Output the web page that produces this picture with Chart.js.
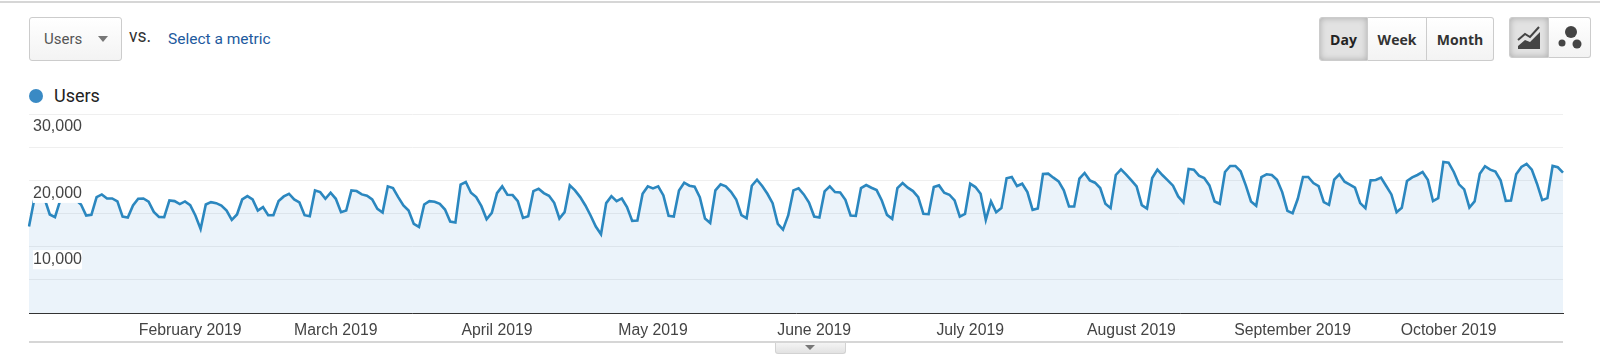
<!DOCTYPE html>
<html>
<head>
<meta charset="utf-8">
<title>Users</title>
<script src="https://cdn.jsdelivr.net/npm/chart.js@4"></script>
<style>
    html, body { margin: 0; padding: 0; background: #fff; }
    body { position: relative; width: 1600px; height: 357px; overflow: hidden; font-family: Roboto, sans-serif; }
    #myChart { position: absolute; left: 0; top: 0; }
    .abs { position: absolute; box-sizing: border-box; }
    .btn { display: flex; align-items: center; justify-content: center; top: 17px; height: 44px;
        background: linear-gradient(#fff, #f3f3f3); border: 1px solid #ccc; font: bold 14px "Open Sans", sans-serif; color: #333; }
    .on { background: #e2e2e2; box-shadow: inset 0 0 6px #aaa; color: #222; }
</style>
</head>
<body>
<div class="abs" style="left:0;top:1px;width:1600px;height:2px;background:#d6d6d6"></div>

<div class="abs btn" style="left:29px;width:93px;border-radius:3px;justify-content:flex-start;padding-left:14px;font:15px Roboto,sans-serif;color:#555">Users</div>
<div class="abs" style="left:98px;top:36px;border-left:5px solid transparent;border-right:5px solid transparent;border-top:6px solid #777"></div>
<div class="abs" style="left:129px;top:26px;font-size:17.5px;color:#333">vs.</div>
<div class="abs" style="left:168px;top:30px;font-size:15.5px;color:#1d5a9e">Select a metric</div>

<div class="abs btn on" style="left:1319px;width:49px;border-radius:3px 0 0 3px">Day</div>
<div class="abs btn" style="left:1368px;width:59px;border-left:0">Week</div>
<div class="abs btn" style="left:1427px;width:67px;border-left:0;border-radius:0 3px 3px 0">Month</div>

<div class="abs btn on" style="left:1509px;width:40px;height:41px;border-radius:3px 0 0 3px">
    <svg width="24" height="24" viewBox="0 0 24 24"><path d="M1 20 L8 14 L13 16 L23 6 V23 H1 Z" fill="#444"/><path d="M1 14 L8 8 L13 11 L22 1" fill="none" stroke="#444" stroke-width="2"/></svg>
</div>
<div class="abs btn" style="left:1549px;width:42px;height:41px;border-left:0;border-radius:0 3px 3px 0">
    <svg width="26" height="26" viewBox="0 0 26 26" fill="#444"><circle cx="14" cy="7" r="6"/><circle cx="5" cy="18" r="3.5"/><circle cx="20" cy="19" r="4.5"/></svg>
</div>

<div class="abs" style="left:29px;top:89px;width:14px;height:14px;border-radius:50%;background:#3a8ac4"></div>
<div class="abs" style="left:54px;top:85px;font-size:18px;color:#222">Users</div>

<canvas id="myChart" width="1600" height="357"></canvas>

<div class="abs" style="left:29px;top:341px;width:1534px;height:2px;background:#d6d6d6"></div>
<div class="abs" style="left:775px;top:343px;width:71px;height:11px;background:linear-gradient(#f4f4f4,#e2e2e2);border:1px solid #d2d2d2;border-top:0;border-radius:0 0 3px 3px"></div>
<div class="abs" style="left:805px;top:345px;border-left:5px solid transparent;border-right:5px solid transparent;border-top:5px solid #777"></div>

<script>
    // daily users, 1 Jan - 23 Oct 2019
    const usersJanFeb = [
        13030, 17070, 17475, 17220, 14850, 14445, 16970, 17730, 17980, 17070,
        16360, 14700, 14800, 17475, 17880, 17270, 17270, 16820, 14540, 14395,
        16210, 17220, 17270, 16770, 15250, 14495, 14445, 16970, 16870, 16415,
        16820, 16260, 14700, 12680, 16360, 16720, 16565, 16210, 15455, 14040,
        14850, 17120, 17625, 17120, 15455, 15960, 14750, 14750, 16870, 17575,
        17980, 17120, 16665, 14750, 14600, 18485
    ];
    const usersMarApr = [
        18230, 17220, 18130, 17220, 15200, 15455, 18485, 18385, 17880, 17675,
        17120, 15710, 15150, 19090, 18840, 17475, 16210, 15455, 13435, 12980,
        16360, 16870, 16770, 16465, 15605, 13790, 13635, 19345, 19750, 18130,
        17475, 16110, 14140, 15100, 18080, 19090, 17830, 17780, 16870, 14345,
        14600, 18385, 18740, 18080, 17675, 16615, 14245, 15200, 19240, 18485,
        17475, 16210, 14700, 13030, 11870, 16565, 17625, 16870, 17270, 15960,
        13890, 13940
    ];
    const usersMayJun = [
        17980, 19090, 18790, 19090, 17730, 14650, 14540, 18485, 19645, 19190,
        19040, 17475, 14245, 13585, 18485, 19390, 19090, 18285, 17120, 14750,
        14295, 19190, 20100, 19140, 17980, 16565, 13435, 12575, 14700, 18485,
        18790, 17880, 16665, 14540, 14395, 18335, 19090, 18230, 18180, 17070,
        14700, 14650, 18840, 19290, 18890, 18535, 16970, 14800, 14190, 18840,
        19595, 18890, 18385, 17475, 14950, 14900, 18990, 19240, 18130, 17830,
        16970, 14540
    ];
    const usersJulAug = [
        14950, 19495, 18990, 17980, 14040, 16820, 15200, 15810, 20305, 20505,
        19140, 19495, 18235, 15555, 15760, 20960, 21010, 20405, 19850, 18485,
        16060, 16060, 20250, 21110, 20000, 19645, 18840, 16465, 15810, 20810,
        21665, 20860, 20000, 19090, 16265, 15760, 20355, 21615, 20760, 20000,
        19190, 17575, 16665, 21715, 21615, 20705, 20355, 19240, 16820, 16465,
        21260, 22170, 22170, 21365, 19240, 16820, 16160, 20505, 20910, 20810,
        20100
    ];
    const usersSepOct = [
        18230, 15405, 15050, 17220, 20505, 20505, 19595, 19140, 16720, 16315,
        20100, 20910, 19800, 19345, 18890, 16565, 15810, 20000, 20050, 20405,
        19140, 17880, 15200, 15860, 19900, 20455, 20810, 21260, 20100, 16870,
        17325, 22780, 22675, 21260, 19395, 18635, 15910, 16820, 21010, 22120,
        21615, 21315, 20000, 16920, 16970, 20910, 22020, 22475, 21615, 19495,
        17020, 17325, 22170, 21970, 21160
    ];
    const users = [...usersJanFeb, ...usersMarApr, ...usersMayJun, ...usersJulAug, ...usersSepOct];

    const monthNames = ['January', 'February', 'March', 'April', 'May', 'June', 'July', 'August', 'September', 'October'];
    const yTickLabels = ['10,000', '20,000', '30,000'];

    // one category per day, only the 1st of a month gets a label (January stays blank)
    const days = users.map((v, i) => new Date(Date.UTC(2019, 0, 1 + i)));

    new Chart(document.getElementById('myChart'), {
        type: 'line',
        data: {
            labels: days.map(d => d.toISOString().slice(0, 10)),
            datasets: [{
                label: 'Users',
                data: users,
                borderColor: '#2b87bf',
                borderWidth: 2.6,
                backgroundColor: 'rgba(30, 120, 200, 0.09)',
                fill: true,
                pointRadius: 0,
                tension: 0
            }]
        },
        options: {
            responsive: false,
            animation: false,
            devicePixelRatio: 1,
            // the mirrored y axis still takes 8px of width, hence 21 and not 29
            layout: { padding: { left: 21, right: 37, top: 114, bottom: 17 } },
            plugins: { legend: { display: false }, tooltip: { enabled: false } },
            scales: {
                x: {
                    grid: { display: false },
                    border: { color: '#333', width: 1 },
                    ticks: {
                        autoSkip: false,
                        maxRotation: 0,
                        padding: 0,
                        color: '#444',
                        font: { family: 'Liberation Sans', size: 15.8 },
                        callback: function(value, index) {
                            const d = days[index];
                            if (d.getUTCDate() !== 1 || d.getUTCMonth() === 0) return null;
                            return monthNames[d.getUTCMonth()] + ' 2019';
                        }
                    }
                },
                y: {
                    min: 0,
                    max: 30000,
                    grid: { color: '#efefef', drawTicks: false },
                    border: { display: false },
                    ticks: {
                        stepSize: 5000,
                        mirror: true,
                        padding: 4,
                        labelOffset: 13,
                        z: 1,
                        showLabelBackdrop: true,
                        backdropColor: '#fff',
                        backdropPadding: 0,
                        color: '#444',
                        font: { family: 'Liberation Sans', size: 16 },
                        callback: function(value) {
                            if (value === 0 || value % 10000 !== 0) return '';
                            return yTickLabels[value / 10000 - 1];
                        }
                    }
                }
            }
        }
    });
</script>
</body>
</html>
